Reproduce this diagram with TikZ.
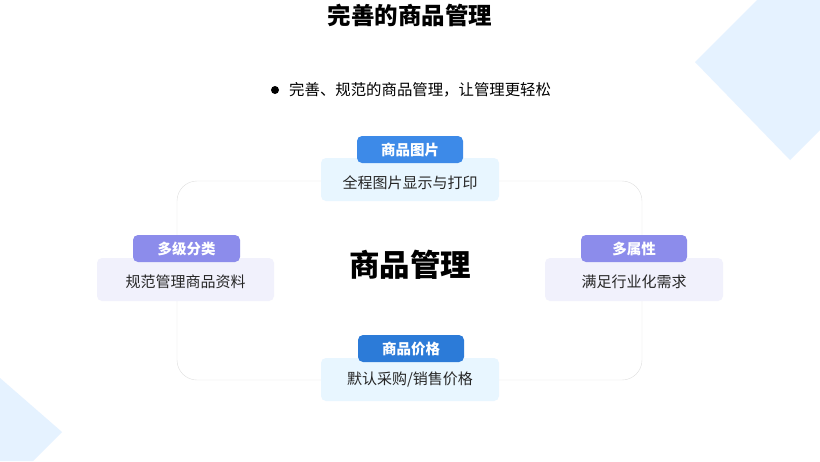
\documentclass[tikz,border=0pt]{standalone}
\usepackage{fontspec}
\setmainfont{Noto Sans CJK SC}
\begin{document}
\begin{tikzpicture}[x=1pt,y=-1pt,
  card/.style={rounded corners=5pt,draw=none},
  lab/.style={draw=none,text=white,font=\fontsize{14.5}{16}\selectfont\bfseries},
  ctext/.style={font=\fontsize{15}{17}\selectfont,text=black!85}]
\useasboundingbox (0,0) rectangle (820,461);
\fill[white] (0,0) rectangle (820,461);
\fill[blue!50!cyan!10] (695,62) -- (790,160) -- (820,130) -- (820,0) -- (757,0) -- cycle;
\fill[blue!50!cyan!10] (0,378) -- (62,432) -- (33,461) -- (0,461) -- cycle;
\node (title) at (410,15) {\fontsize{23.5}{26}\selectfont\bfseries 完善的商品管理};
\node[circle,fill=black,inner sep=0pt,minimum size=8pt] (dot) at (275,90) {};
\node[anchor=west,inner sep=0pt,font=\fontsize{15.4}{17}\selectfont] (sub) at (289,90) {完善、规范的商品管理，让管理更轻松};
\draw[black!12,rounded corners=20pt] (177,181) rectangle (642,380);
\node (center) at (410,265) {\fontsize{30.5}{34}\selectfont\bfseries 商品管理};
% top
\fill[card,fill=blue!40!cyan!9] (321,158) rectangle (499,201);
\node[ctext] (t1) at (410,183) {全程图片显示与打印};
\fill[fill={rgb,255:red,61;green,138;blue,232},rounded corners=5pt] (357,136) rectangle (463,163);
\node[lab] (l1) at (410,149.5) {商品图片};
% left
\fill[card,fill={rgb,255:red,241;green,241;blue,252}] (97,258) rectangle (274,301);
\node[ctext] (t2) at (185.5,282) {规范管理商品资料};
\fill[fill={rgb,255:red,140;green,140;blue,235},rounded corners=5pt] (133,235) rectangle (240,262);
\node[lab] (l2) at (186.5,248.5) {多级分类};
% right
\fill[card,fill={rgb,255:red,241;green,241;blue,252}] (545,258) rectangle (723,301);
\node[ctext] (t3) at (634,282) {满足行业化需求};
\fill[fill={rgb,255:red,140;green,140;blue,235},rounded corners=5pt] (581,235) rectangle (687,262);
\node[lab] (l3) at (634,248.5) {多属性};
% bottom
\fill[card,fill=blue!40!cyan!9] (321,358) rectangle (499,401);
\node[ctext] (t4) at (410,380) {默认采购/销售价格};
\fill[fill={rgb,255:red,44;green,123;blue,216},rounded corners=5pt] (358,335) rectangle (464,362);
\node[lab] (l4) at (411,348.5) {商品价格};
\end{tikzpicture}
\end{document}
